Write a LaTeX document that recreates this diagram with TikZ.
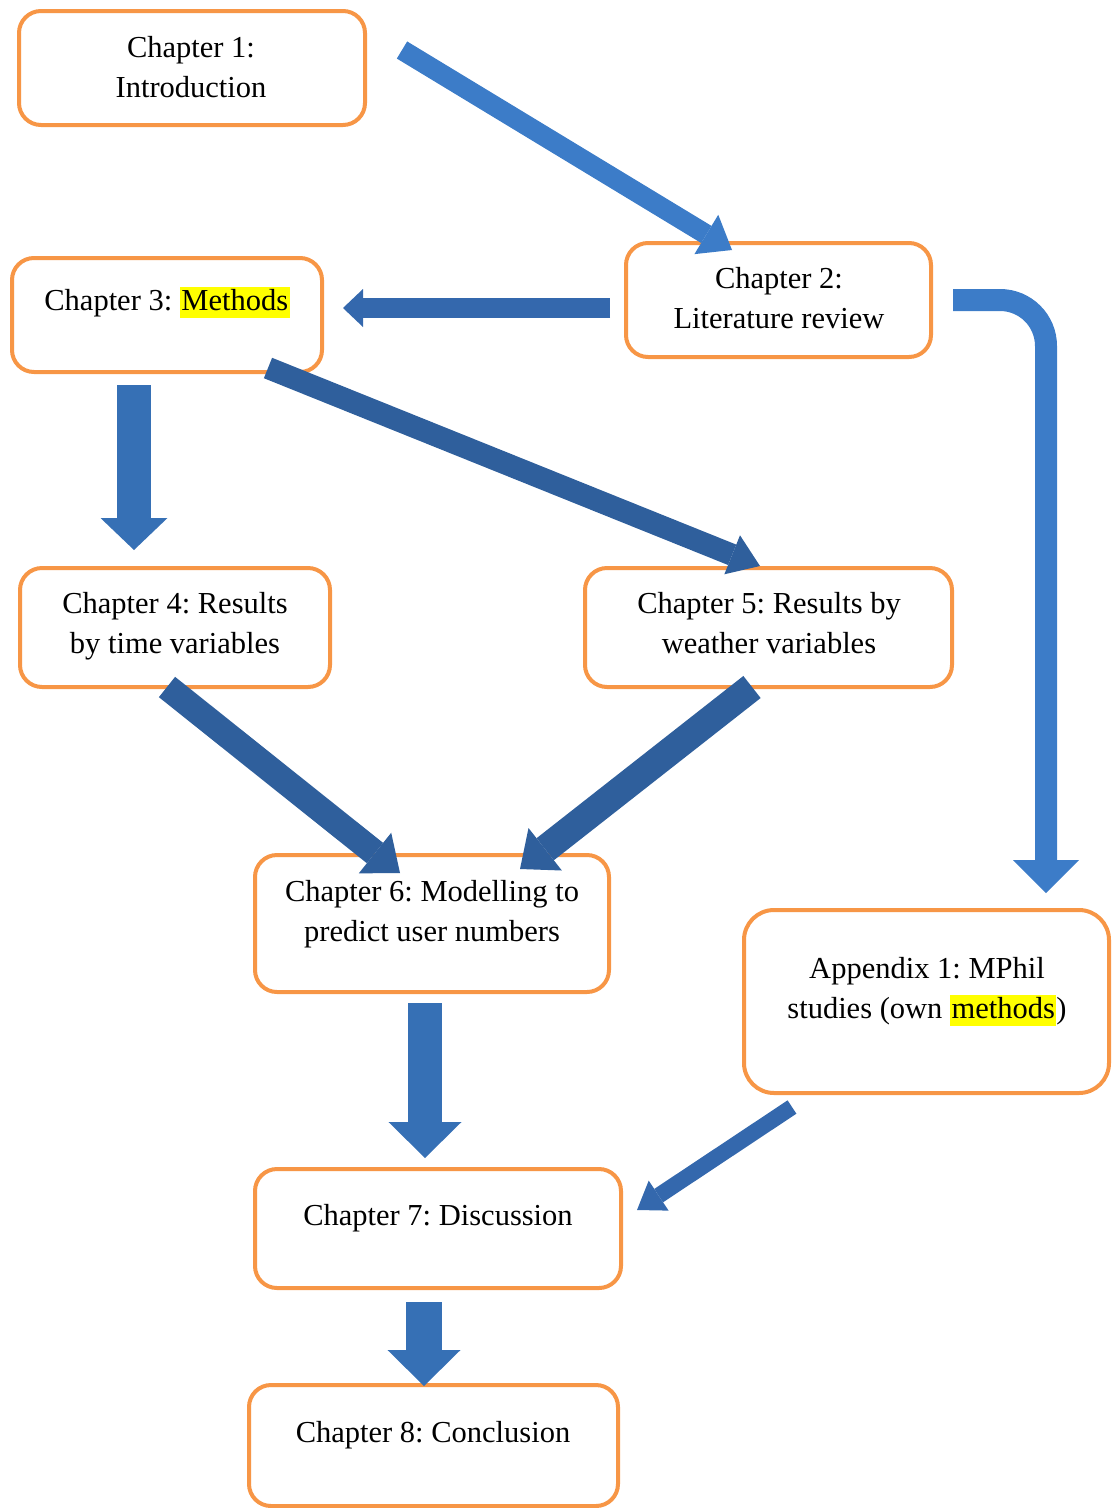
\documentclass[tikz,border=0pt]{standalone}
\usepackage{fontspec}
\setmainfont{Liberation Serif}
\frenchspacing
\usetikzlibrary{arrows.meta}
\definecolor{boxorange}{HTML}{F79646}
\definecolor{bluelight}{HTML}{3C7CC8}
\definecolor{bluemid}{HTML}{3670B5}
\definecolor{bluedark}{HTML}{2F5F9C}
\definecolor{bluehead}{HTML}{3468AD}
\definecolor{hlyellow}{HTML}{FFFF00}
\newcommand\hlt[1]{{\setlength{\fboxsep}{1.5pt}\colorbox{hlyellow}{\vphantom{Mp}#1}}}
\newcommand\twolines[2]{\begin{tabular}[t]{@{}c@{}}#1\\#2\end{tabular}}
\tikzset{
  box/.style={draw=boxorange, line width=4pt, rounded corners=22pt, inner sep=0pt, fill=white},
  txt/.style={anchor=base, inner sep=0pt, font=\fontsize{30.5}{40}\selectfont\frenchspacing},
  barrow/.style n args={4}{draw=#1, line width=#2pt,
     -{Triangle[width=#3pt, length=#4pt, line width=0pt]}},
}
\begin{document}
\begin{tikzpicture}[x=1pt, y=-1pt]
\useasboundingbox (0,0) rectangle (1112,1508);

% boxes
\node[box, minimum width=346pt, minimum height=114pt] (ch1) at (192,68) {};
\node[box, minimum width=305pt, minimum height=114pt] (ch2) at (778.5,300) {};
\node[box, minimum width=310pt, minimum height=114pt] (ch3) at (167,315) {};
\node[box, minimum width=310pt, minimum height=119pt] (ch4) at (175,627.5) {};
\node[box, minimum width=367pt, minimum height=119pt] (ch5) at (768.5,627.5) {};
\node[box, minimum width=354pt, minimum height=137pt] (ch6) at (432,923.5) {};
\node[box, rounded corners=30pt, minimum width=365pt, minimum height=183pt] (app1) at (926.5,1001.5) {};
\node[box, minimum width=366pt, minimum height=119pt] (ch7) at (438,1228.5) {};
\node[box, minimum width=369pt, minimum height=121pt] (ch8) at (433.5,1445.5) {};

% texts
\node[txt] (t1) at (191,57) {\twolines{Chapter 1:}{Introduction}};
\node[txt] (t2) at (779,288) {\twolines{Chapter 2:}{Literature review}};
\node[txt] (t3) at (167,310) {Chapter 3: \hlt{Methods}};
\node[txt] (t4) at (175,613) {\twolines{Chapter 4: Results}{by time variables}};
\node[txt] (t5) at (769,613) {\twolines{Chapter 5: Results by}{weather variables}};
\node[txt] (t6) at (432,901) {\twolines{Chapter 6: Modelling to}{predict user numbers}};
\node[txt] (t7) at (927,978) {\twolines{Appendix 1: MPhil}{studies (own \hlt{methods})}};
\node[txt] (t8) at (438,1225) {Chapter 7: Discussion};
\node[txt] (t9) at (433,1442) {Chapter 8: Conclusion};

% arrow end points
\coordinate (a1s) at (402,50);   \coordinate (a1e) at (732,250);
\coordinate (a2s) at (610,308);  \coordinate (a2e) at (343,308);
\coordinate (a3s) at (953,300);  \coordinate (a3e) at (1046,893);
\coordinate (a4s) at (134,385);  \coordinate (a4e) at (134,550);
\coordinate (a5s) at (268,368);  \coordinate (a5e) at (760,566);
\coordinate (a6s) at (167,687);  \coordinate (a6e) at (400,873);
\coordinate (a7s) at (752,687);  \coordinate (a7e) at (520,869);
\coordinate (a8s) at (425,1003); \coordinate (a8e) at (425,1158);
\coordinate (a9s) at (792,1107); \coordinate (a9e) at (637,1210);
\coordinate (a10s) at (424,1302); \coordinate (a10e) at (424,1386);

% arrows
\draw[barrow={bluelight}{20}{46}{30}] (a1s) -- (a1e);
\draw[barrow={bluehead}{20}{38}{20}] (a2s) -- (a2e);
\draw[barrow={bluelight}{22}{66}{33}, rounded corners=46pt] (a3s) -| (a3e);
\draw[barrow={bluemid}{34}{67}{32}] (a4s) -- (a4e);
\draw[barrow={bluedark}{22}{42}{30}] (a5s) -- (a5e);
\draw[barrow={bluedark}{26}{52}{32}] (a6s) -- (a6e);
\draw[barrow={bluedark}{28}{54}{32}] (a7s) -- (a7e);
\draw[barrow={bluemid}{34}{73}{36}] (a8s) -- (a8e);
\draw[barrow={bluehead}{16}{36}{26}] (a9s) -- (a9e);
\draw[barrow={bluemid}{36}{73}{36}] (a10s) -- (a10e);
\end{tikzpicture}
\end{document}
